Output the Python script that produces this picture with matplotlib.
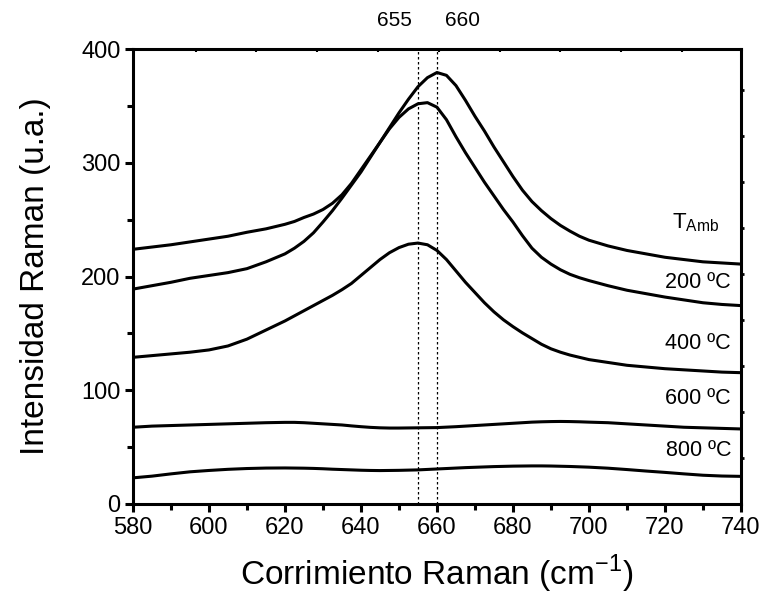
import numpy as np
import matplotlib
matplotlib.use("Agg")
import matplotlib.pyplot as plt
from matplotlib.ticker import MultipleLocator, FixedLocator

plt.rcParams['font.family'] = ['Liberation Sans', 'DejaVu Sans']

# Raman shift (cm-1): coarser in the flat parts, finer around the band
shift = np.concatenate([np.arange(580, 621, 5), np.arange(622.5, 700.1, 2.5), np.arange(705, 741, 5)])

# intensities
t_amb = [224, 226, 228, 230.5, 233, 235.5, 239, 242, 246,
         248.5, 252, 255, 259, 264.5, 272, 282, 294, 306, 318, 331, 344, 356, 367, 375, 379.5,
         377, 368, 355, 341, 328, 314, 301, 288, 276, 266, 258, 251, 245, 240, 235.5, 232,
         227, 223, 220, 217, 215, 213, 212, 211]
t_200 = [189, 192, 195, 198.5, 201, 203.5, 207, 213, 220,
         225, 231, 238.5, 248, 258, 269, 280.5, 292, 305, 318, 330, 340, 347.5, 352, 353, 349,
         338, 323, 309, 296, 283, 271, 259, 248, 236, 225, 217, 211, 206, 202, 199, 196.5,
         192, 188, 185, 182, 179.5, 177, 175.5, 174.5]
t_400 = [129, 130.5, 132, 133.5, 135.5, 139, 145, 153, 161,
         165.5, 170, 174.5, 179, 183.5, 188.5, 194, 201, 208, 215, 221, 225.5, 228.5, 229.5, 228, 223,
         215, 205, 195, 186, 177, 169, 162, 156, 150.5, 145.5, 140.5, 136.5, 133.5, 131, 129, 127,
         124.5, 122, 120.5, 119, 118, 117, 116, 115.5]
t_600 = [67.5, 68.5, 69, 69.5, 70, 70.5, 71, 71.5, 71.8,
         71.8, 71.5, 71, 70.5, 70, 69.5, 68.7, 68, 67.4, 67, 66.8, 66.8, 66.9, 67, 67.1, 67.2,
         67.6, 68, 68.5, 69, 69.5, 70, 70.5, 71, 71.5, 72, 72.3, 72.5, 72.6, 72.5, 72.3, 72,
         71.5, 70.5, 69.5, 68.5, 67.5, 67, 66.5, 66]
t_800 = [23, 24.5, 26.5, 28.3, 29.5, 30.5, 31.2, 31.6, 31.7,
         31.6, 31.5, 31.3, 31, 30.6, 30.3, 30, 29.7, 29.5, 29.4, 29.5, 29.6, 29.8, 30, 30.4, 30.8,
         31.2, 31.6, 32, 32.3, 32.6, 32.9, 33.1, 33.3, 33.4, 33.5, 33.5, 33.4, 33.2, 33, 32.7, 32.4,
         31.5, 30.3, 29, 27.8, 26.5, 25.3, 24.6, 24.3]

labels = ["200 ºC", "400 ºC", "600 ºC", "800 ºC"]
label_y = [195, 141, 92.5, 46.7]
peaks = [655, 660]

fig = plt.figure(figsize=(7.66, 6.0), dpi=100)
ax = fig.add_axes([0.1736, 0.16, 0.7937, 0.758])

for s in [t_amb, t_200, t_400, t_600, t_800]:
    ax.plot(shift, s, color='black', lw=2.2)

for p in peaks:
    ax.axvline(p, color='black', lw=0.9, ls=(0, (2, 2)))

ax.set_xlim(580, 740)
ax.set_ylim(0, 400)

ax.xaxis.set_major_locator(MultipleLocator(20))
ax.xaxis.set_minor_locator(MultipleLocator(10))
ax.yaxis.set_major_locator(MultipleLocator(100))
ax.yaxis.set_minor_locator(MultipleLocator(50))
ax.tick_params(which='major', direction='out', length=6, width=2.2, labelsize=17, pad=3)
ax.tick_params(which='minor', direction='out', length=4, width=2.2)

for sp in ax.spines.values():
    sp.set_linewidth(2.2)

# small ticks on top and right
top = ax.secondary_xaxis('top')
top.xaxis.set_major_locator(FixedLocator(np.arange(596.5, 741, 16)))
top.tick_params(direction='in', length=2, width=1.5, labeltop=False)
top.set_xticklabels([])
right = ax.secondary_yaxis('right')
right.yaxis.set_major_locator(FixedLocator(np.arange(40.5, 400, 40.5)))
right.tick_params(direction='out', length=2, width=2, labelright=False)
right.set_yticklabels([])

ax.set_xlabel("Corrimiento Raman (cm$^{\\mathregular{-1}}$)", fontsize=24, labelpad=10)
ax.set_ylabel("Intensidad Raman (u.a.)", fontsize=24, labelpad=22)

ax.text(721.8, 247.6, "T$_{\\mathregular{Amb}}$", fontsize=16, ha='left', va='center')
for lab, y in zip(labels, label_y):
    ax.text(737.4, y, lab, fontsize=15.5, ha='right', va='center')

fig.text(ax.transData.transform((653.5, 0))[0] / 766, 0.965, "655", fontsize=15, ha='right', va='center')
fig.text(ax.transData.transform((662, 0))[0] / 766, 0.965, "660", fontsize=15, ha='left', va='center')

fig.savefig("out.png", dpi=100)
